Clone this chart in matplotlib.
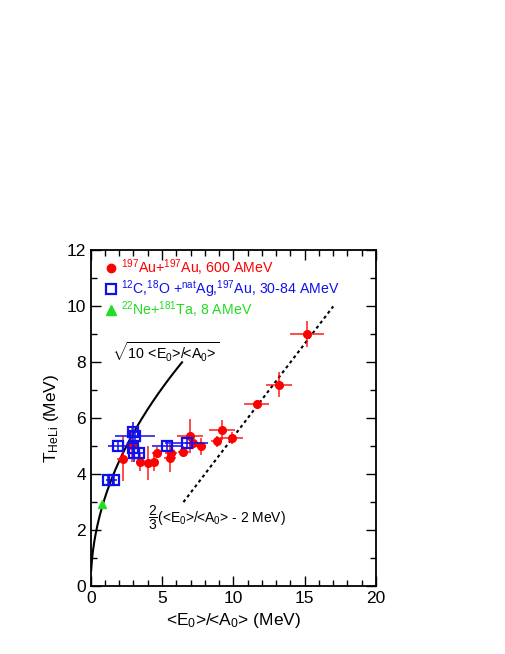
import numpy as np
import matplotlib
matplotlib.use("Agg")
import matplotlib.pyplot as plt
from matplotlib.lines import Line2D

plt.rcParams["font.family"] = ["Liberation Sans", "DejaVu Sans"]
plt.rcParams["mathtext.fontset"] = "custom"
plt.rcParams["mathtext.rm"] = "Liberation Sans"
plt.rcParams["mathtext.it"] = "Liberation Sans"

# Au+Au 600 AMeV
au_x = [2.24, 2.87, 3.46, 4.04, 4.46, 4.62, 5.56, 5.63, 6.49, 6.96, 7.19, 7.71, 8.83, 9.18, 9.88, 11.63, 13.22, 15.18]
au_y = [4.55, 5.05, 4.45, 4.39, 4.45, 4.77, 4.57, 4.75, 4.81, 5.37, 5.11, 4.99, 5.17, 5.58, 5.29, 6.50, 7.20, 9.01]
au_xerr = [0.4, 0.4, 0.3, 0.3, 0.3, 0.3, 0.4, 0.4, 0.4, 0.9, 0.6, 0.4, 0.4, 0.9, 0.8, 0.9, 0.9, 1.2]
au_yerr = [0.8, 0.6, 0.35, 0.6, 0.35, 0.2, 0.5, 0.3, 0.2, 0.6, 0.2, 0.3, 0.2, 0.35, 0.2, 0.15, 0.45, 0.45]

# C,O + Ag,Au 30-84 AMeV
co_x = [1.24, 1.66, 1.94, 2.94, 3.10, 2.99, 3.06, 3.39, 5.32, 6.73]
co_y = [3.79, 3.79, 4.99, 5.49, 5.35, 4.93, 4.75, 4.75, 4.99, 5.11]
co_xerr = [0.2, 0.2, 0.7, 0.3, 1.4, 0.3, 0.3, 0.3, 1.0, 1.5]
co_yerr = [0.2, 0.2, 0.15, 0.37, 0.2, 0.3, 0.3, 0.2, 0.15, 0.15]

# Ne+Ta 8 AMeV
ne_x = [0.82]
ne_y = [2.95]

red = "#ff0000"
blue = "#1010ee"
green = "#22dd22"

fig = plt.figure(figsize=(5.05, 6.54), dpi=100)
ax = fig.add_axes([0.1796, 0.104, 0.565, 0.513])

# model curves
xs = np.linspace(0.03, 6.4, 200)
ax.plot(xs, np.sqrt(10 * xs), color="black", lw=1.5)
xl = np.linspace(6.5, 17.0, 50)
ax.plot(xl, 2.0 / 3.0 * (xl - 2.0), color="black", lw=1.5, ls=(0, (1.5, 1.5)))

ax.errorbar(au_x, au_y, xerr=au_xerr, yerr=au_yerr, fmt="none", ecolor=red, elinewidth=1.4, alpha=0.7, zorder=3)
ax.plot(au_x, au_y, "o", color=red, ms=5.5, zorder=4)

ax.errorbar(co_x, co_y, xerr=co_xerr, yerr=co_yerr, fmt="none", ecolor=blue, elinewidth=1.4, alpha=0.8, zorder=5)
ax.plot(co_x, co_y, "s", mfc="none", mec=blue, mew=1.6, ms=6.5, zorder=6)

ax.plot(ne_x, ne_y, "^", color=green, ms=6, zorder=6)

ax.set_xlim(0, 20)
ax.set_ylim(0, 12)
ax.set_xticks([0, 5, 10, 15, 20])
ax.set_xticks(np.arange(0, 21, 1), minor=True)
ax.set_yticks([0, 2, 4, 6, 8, 10, 12])
ax.set_yticks(np.arange(0, 13, 1), minor=True)
ax.tick_params(which="both", direction="in", top=True, right=True, labelsize=12.5)
ax.tick_params(which="major", length=7, width=1)
ax.tick_params(which="minor", length=4, width=1)
for s in ax.spines.values():
    s.set_linewidth(1.3)

ax.set_xlabel(r"<E$_0$>/<A$_0$> (MeV)", fontsize=12.5)
ax.set_ylabel(r"T$_{\rm HeLi}$ (MeV)", fontsize=12.5)

ax.text(1.5, 8.35, r"$\sqrt{\text{10 <E}_0\text{>/<A}_0\text{>}}$", fontsize=10.3, ha="left", va="center")
ax.text(4.0, 2.45, r"$\dfrac{2}{3}$(<E$_0$>/<A$_0$> - 2 MeV)", fontsize=10, ha="left", va="center")

handles = [
    Line2D([], [], ls="none", marker="o", color=red, ms=6),
    Line2D([], [], ls="none", marker="s", mfc="none", mec=blue, mew=1.6, ms=6.5),
    Line2D([], [], ls="none", marker="^", color=green, ms=6.5),
]
labels = [
    r"$^{197}$Au+$^{197}$Au, 600 AMeV",
    r"$^{12}$C,$^{18}$O +$^{\rm nat}$Ag,$^{197}$Au, 30-84 AMeV",
    r"$^{22}$Ne+$^{181}$Ta, 8 AMeV",
]
leg = ax.legend(handles, labels, loc="upper left", frameon=False, fontsize=10.2,
                handletextpad=0.15, handlelength=1.2, labelspacing=0.02,
                borderaxespad=0.0, borderpad=0.3, bbox_to_anchor=(0.025, 0.993))
for t, c in zip(leg.get_texts(), [red, blue, green]):
    t.set_color(c)

fig.savefig("out.png", dpi=100)
